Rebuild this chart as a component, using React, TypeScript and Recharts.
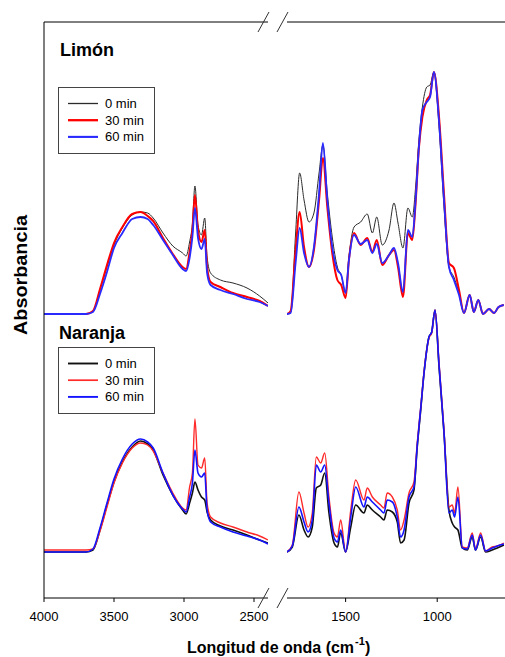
import { LineChart, Line, XAxis, YAxis, ReferenceLine } from "recharts";

const FONT = "Arial, 'Liberation Sans', Helvetica, sans-serif";
const W = 505;
const H = 657;
const TOP = 22;
const BOTTOM = 598;
const Y_MAX = 5.76;
// vertical offsets that stack the two spectra
const LIMON_OFFSET = 2.84;
const NARANJA_OFFSET = 0.46;

const legendLabels = ["0 min", "30 min", "60 min"];

// --- high wavenumber segment (4000-2400 cm-1), shared by both samples
const leftWaves = [
  4000, 3700, 3650, 3600, 3550, 3500, 3440, 3370, 3310, 3260, 3220, 3150, 3080, 3010,
  2985, 2960, 2940, 2922, 2900, 2875, 2852, 2835, 2810, 2740, 2650, 2550, 2460, 2400,
];
const limonLeft0 = [
  0, 0, 0.03, 0.24, 0.47, 0.69, 0.86, 0.99, 1.02, 1.01, 0.96, 0.81, 0.68, 0.61,
  0.58, 0.72, 0.9, 1.28, 0.89, 0.79, 0.96, 0.57, 0.41, 0.34, 0.31, 0.26, 0.18, 0.11,
];
const limonLeft30 = [
  0, 0, 0.03, 0.25, 0.49, 0.71, 0.87, 1.0, 1.02, 0.98, 0.93, 0.76, 0.6, 0.47,
  0.45, 0.62, 0.84, 1.19, 0.84, 0.72, 0.84, 0.47, 0.32, 0.27, 0.21, 0.17, 0.13, 0.08,
];
const limonLeft60 = [
  0, 0, 0.02, 0.2, 0.42, 0.66, 0.81, 0.95, 0.97, 0.95, 0.89, 0.74, 0.59, 0.45,
  0.43, 0.56, 0.77, 1.06, 0.76, 0.65, 0.75, 0.41, 0.29, 0.24, 0.2, 0.15, 0.12, 0.08,
];
const naranjaLeft0 = [
  0, 0, 0.02, 0.22, 0.47, 0.7, 0.9, 1.05, 1.11, 1.08, 1.02, 0.77, 0.57, 0.42,
  0.38, 0.49, 0.59, 0.7, 0.62, 0.55, 0.52, 0.4, 0.32, 0.26, 0.22, 0.17, 0.12, 0.09,
];
const naranjaLeft30 = [
  0.02, 0.02, 0.03, 0.21, 0.45, 0.69, 0.89, 1.04, 1.09, 1.07, 1.01, 0.79, 0.59, 0.44,
  0.42, 0.65, 0.79, 1.33, 0.87, 0.84, 0.94, 0.49, 0.35, 0.29, 0.25, 0.2, 0.16, 0.12,
];
const naranjaLeft60 = [
  0, 0, 0.03, 0.24, 0.49, 0.73, 0.93, 1.08, 1.13, 1.1, 1.04, 0.79, 0.57, 0.43,
  0.4, 0.55, 0.69, 1.02, 0.79, 0.75, 0.79, 0.42, 0.3, 0.25, 0.2, 0.16, 0.12, 0.08,
];

// --- fingerprint segment (1820-630 cm-1)
const limonWaves = [
  1820, 1800, 1773, 1751, 1727, 1700, 1673, 1645, 1624, 1600, 1573, 1545, 1524, 1500,
  1482, 1454, 1418, 1382, 1354, 1330, 1300, 1263, 1236, 1214, 1187, 1160, 1136, 1118,
  1100, 1081, 1057, 1039, 1018, 990, 963, 936, 909, 881, 854, 823, 800, 776, 750, 717,
  690, 665, 637,
];
const limonRight0 = [
  0, 0.02, 0.81, 1.41, 1.14, 0.92, 1.01, 1.41, 1.69, 1.21, 0.77, 0.47, 0.39, 0.21,
  0.57, 0.87, 0.92, 1.0, 0.81, 0.97, 0.69, 0.84, 1.11, 0.91, 0.66, 1.06, 0.97, 1.27,
  1.74, 2.07, 2.27, 2.29, 2.42, 1.87, 1.07, 0.47, 0.37, 0.21, 0.01, 0.19, 0.02, 0.14,
  0, 0.05, 0.01, 0.07, 0.09,
];
const limonRight30 = [
  0, 0.03, 0.64, 1.02, 0.67, 0.47, 0.64, 1.14, 1.56, 1.07, 0.61, 0.34, 0.29, 0.16,
  0.54, 0.81, 0.69, 0.76, 0.62, 0.74, 0.49, 0.59, 0.64, 0.47, 0.17, 0.81, 0.74, 1.11,
  1.66, 1.97, 2.14, 2.19, 2.42, 1.97, 1.2, 0.51, 0.46, 0.24, 0.01, 0.19, 0.02, 0.14,
  0, 0.05, 0.01, 0.07, 0.09,
];
const limonRight60 = [
  0, 0.01, 0.51, 0.86, 0.61, 0.47, 0.67, 1.21, 1.71, 1.14, 0.67, 0.44, 0.39, 0.21,
  0.54, 0.79, 0.7, 0.74, 0.61, 0.7, 0.51, 0.59, 0.66, 0.51, 0.22, 0.84, 0.77, 1.14,
  1.67, 2.04, 2.12, 2.17, 2.42, 1.92, 1.14, 0.47, 0.34, 0.19, 0.01, 0.19, 0.02, 0.14,
  0, 0.05, 0.01, 0.07, 0.09,
];

const naranjaWaves = [
  1820, 1791, 1755, 1727, 1705, 1682, 1660, 1636, 1614, 1591, 1563, 1545, 1527, 1500,
  1472, 1445, 1400, 1382, 1354, 1309, 1291, 1273, 1245, 1218, 1200, 1181, 1154, 1127,
  1109, 1090, 1072, 1045, 1030, 1012, 990, 963, 936, 918, 905, 887, 863, 836, 809, 791,
  763, 736, 700, 672, 636,
];
const naranjaRight0 = [
  0, 0.05, 0.37, 0.22, 0.15, 0.25, 0.64, 0.67, 0.79, 0.39, 0.09, 0.05, 0.19, 0,
  0.25, 0.47, 0.39, 0.47, 0.42, 0.35, 0.32, 0.42, 0.4, 0.3, 0.09, 0.12, 0.49, 0.62,
  1.05, 1.42, 1.79, 2.15, 2.2, 2.42, 1.85, 1.19, 0.42, 0.29, 0.25, 0.22, 0.04, 0.02,
  0.15, 0.02, 0.15, 0, 0.02, 0.04, 0.07,
];
const naranjaRight30 = [
  0, 0.07, 0.6, 0.39, 0.25, 0.39, 0.95, 0.89, 0.99, 0.55, 0.19, 0.15, 0.32, 0,
  0.42, 0.72, 0.52, 0.64, 0.55, 0.47, 0.44, 0.59, 0.55, 0.42, 0.22, 0.32, 0.59, 0.7,
  1.09, 1.45, 1.8, 2.14, 2.19, 2.42, 1.89, 1.22, 0.45, 0.47, 0.39, 0.65, 0.05, 0.04,
  0.19, 0.03, 0.19, 0.01, 0.05, 0.06, 0.09,
];
const naranjaRight60 = [
  0, 0.06, 0.45, 0.3, 0.2, 0.32, 0.87, 0.8, 0.87, 0.49, 0.14, 0.1, 0.22, 0,
  0.35, 0.65, 0.45, 0.55, 0.5, 0.42, 0.39, 0.52, 0.5, 0.35, 0.15, 0.22, 0.55, 0.65,
  1.07, 1.44, 1.79, 2.15, 2.2, 2.42, 1.87, 1.2, 0.39, 0.42, 0.35, 0.55, 0.04, 0.03,
  0.17, 0.02, 0.17, 0.01, 0.04, 0.06, 0.08,
];

const limonStyle = [
  { stroke: "#2b2b2b", width: 1 },
  { stroke: "#ff0000", width: 2 },
  { stroke: "#2a2aff", width: 1.8 },
];
const naranjaStyle = [
  { stroke: "#111111", width: 1.6 },
  { stroke: "#ff2a2a", width: 1.4 },
  { stroke: "#1414ff", width: 1.6 },
];

const toPoints = (waves: number[], vals: number[], off: number) =>
  waves.map((w, i) => ({ w, a: vals[i] + off }));

type Trace = { id: string; data: { w: number; a: number }[]; stroke: string; width: number };

const buildTraces = (
  prefix: string,
  waves: number[],
  sets: number[][],
  off: number,
  style: { stroke: string; width: number }[]
): Trace[] =>
  sets.map((vals, i) => ({
    id: `${prefix}-${i}`,
    data: toPoints(waves, vals, off),
    stroke: style[i].stroke,
    width: style[i].width,
  }));

const leftTraces = [
  ...buildTraces("lim", leftWaves, [limonLeft0, limonLeft30, limonLeft60], LIMON_OFFSET, limonStyle),
  ...buildTraces("nar", leftWaves, [naranjaLeft0, naranjaLeft30, naranjaLeft60], NARANJA_OFFSET, naranjaStyle),
];
const rightTraces = [
  ...buildTraces("lim", limonWaves, [limonRight0, limonRight30, limonRight60], LIMON_OFFSET, limonStyle),
  ...buildTraces("nar", naranjaWaves, [naranjaRight0, naranjaRight30, naranjaRight60], NARANJA_OFFSET, naranjaStyle),
];

function Segment({
  width,
  left,
  right,
  domain,
  ticks,
  traces,
  showY,
}: {
  width: number;
  left: number;
  right: number;
  domain: [number, number];
  ticks: number[];
  traces: Trace[];
  showY: boolean;
}) {
  return (
    <div style={{ position: "absolute", left: 0, top: 0 }}>
      <LineChart
        width={width}
        height={H}
        margin={{ top: TOP, right, bottom: H - BOTTOM - 30, left }}
      >
        <XAxis
          type="number"
          dataKey="w"
          domain={domain}
          reversed
          ticks={ticks}
          interval={0}
          height={30}
          tickSize={4}
          tickMargin={10}
          allowDataOverflow
          axisLine={{ stroke: "#000" }}
          tickLine={{ stroke: "#000" }}
          tick={{ fill: "#000", fontSize: 13, fontFamily: FONT }}
        />
        <YAxis
          type="number"
          domain={[0, Y_MAX]}
          hide={!showY}
          width={showY ? 1 : 0}
          tick={false}
          tickLine={false}
          axisLine={{ stroke: "#000" }}
        />
        <ReferenceLine y={Y_MAX} stroke="#000" />
        {traces.map((t) => (
          <Line
            key={t.id}
            data={t.data}
            dataKey="a"
            type="monotone"
            stroke={t.stroke}
            strokeWidth={t.width}
            dot={false}
            activeDot={false}
            isAnimationActive={false}
          />
        ))}
      </LineChart>
    </div>
  );
}

function LegendBox({
  y,
  style,
}: {
  y: number;
  style: { stroke: string; width: number }[];
}) {
  return (
    <g>
      <rect x={58.5} y={y + 0.5} width={96} height={66} fill="#fff" stroke="#444" />
      {legendLabels.map((label, i) => {
        const ry = y + 16.5 + i * 16.7;
        return (
          <g key={label}>
            <line x1={68} x2={98} y1={ry} y2={ry} stroke={style[i].stroke} strokeWidth={style[i].width + 0.3} />
            <text x={105} y={ry} dominantBaseline="central" fontSize={13} fontFamily={FONT} fill="#000">
              {label}
            </text>
          </g>
        );
      })}
    </g>
  );
}

function BreakMark({ cx, cy }: { cx: number; cy: number }) {
  return (
    <g stroke="#333" strokeWidth={1}>
      <line x1={cx - 6} y1={cy + 10} x2={cx + 5} y2={cy - 10} />
      <line x1={cx + 13} y1={cy + 10} x2={cx + 24} y2={cy - 10} />
    </g>
  );
}

export default function App() {
  return (
    <div
      style={{
        position: "absolute",
        left: 0,
        top: 0,
        width: W,
        height: H,
        background: "#fff",
        overflow: "hidden",
      }}
    >
      <Segment
        width={290}
        left={43}
        right={22}
        domain={[2400, 4000]}
        ticks={[4000, 3500, 3000, 2500]}
        traces={leftTraces}
        showY
      />
      <Segment
        width={W}
        left={287}
        right={0}
        domain={[630, 1820]}
        ticks={[1500, 1000]}
        traces={rightTraces}
        showY={false}
      />
      <svg
        width={W}
        height={H}
        style={{ position: "absolute", left: 0, top: 0, pointerEvents: "none" }}
      >
        <BreakMark cx={264} cy={TOP} />
        <BreakMark cx={264} cy={BOTTOM} />
        <text x={60} y={56} fontSize={18} fontWeight="bold" fontFamily={FONT} fill="#000">
          Limón
        </text>
        <text x={59} y={339} fontSize={18} fontWeight="bold" fontFamily={FONT} fill="#000">
          Naranja
        </text>
        <LegendBox y={87} style={limonStyle} />
        <LegendBox y={347} style={naranjaStyle} />
        <text
          x={20}
          y={275}
          transform="rotate(-90 20 275)"
          textAnchor="middle"
          dominantBaseline="central"
          fontSize={19}
          fontWeight="bold"
          fontFamily={FONT}
          textLength={120}
          lengthAdjust="spacingAndGlyphs"
          fill="#000"
        >
          Absorbancia
        </text>
        <g fontWeight="bold" fontFamily={FONT} fill="#000">
          <text x={187} y={653} fontSize={16}>
            Longitud de onda (cm
          </text>
          <text x={355} y={645} fontSize={11}>
            -1
          </text>
          <text x={365} y={653} fontSize={16}>
            )
          </text>
        </g>
      </svg>
    </div>
  );
}
